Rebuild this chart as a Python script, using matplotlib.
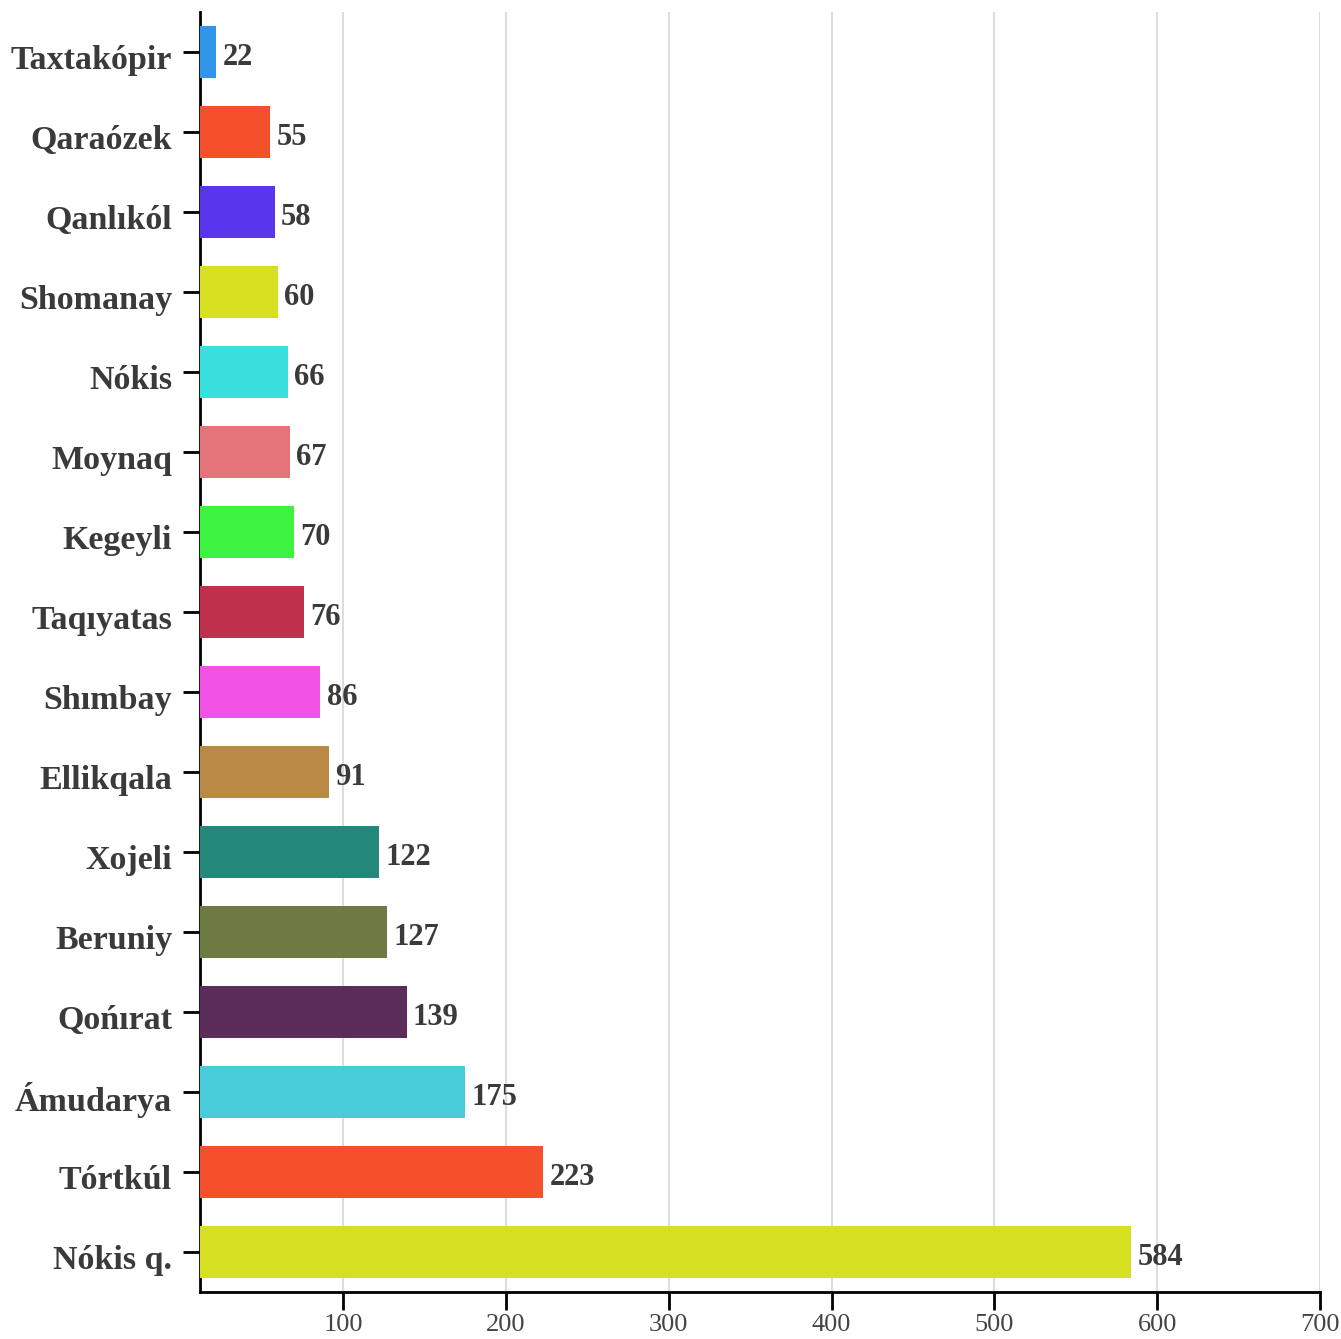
import matplotlib.pyplot as plt
from matplotlib.transforms import ScaledTranslation

districts = ['Taxtakópir', 'Qaraózek', 'Qanlıkól', 'Shomanay', 'Nókis', 'Moynaq',
             'Kegeyli', 'Taqıyatas', 'Shımbay', 'Ellikqala', 'Xojeli', 'Beruniy',
             'Qońırat', 'Ámudarya', 'Tórtkúl', 'Nókis q.']
counts = [22, 55, 58, 60, 66, 67, 70, 76, 86, 91, 122, 127, 139, 175, 223, 584]
colors = ['#3196EA', '#F5502C', '#5935EE', '#D8E021', '#39E0DE', '#E5737A',
          '#3EF240', '#BF304D', '#F252E6', '#B98945', '#23887A', '#6D7B42',
          '#5C2C5A', '#48CCDA', '#F5502C', '#D7DF22']
xticks = [100, 200, 300, 400, 500, 600, 700]

plt.rcParams['font.family'] = ['Liberation Serif', 'DejaVu Serif']

fig = plt.figure(figsize=(13.41, 13.39), dpi=100)
ax = fig.add_axes([200/1341, 47/1339, 1120/1341, 1280/1339])

pos = list(range(len(districts)))
ax.barh(pos, counts, height=0.64, color=colors, zorder=3)
for p, v in zip(pos, counts):
    ax.annotate(str(v), (v, p), xytext=(4.5, -4), textcoords='offset points',
                va='center', ha='left', fontsize=22, fontweight='bold', color='#3a3a3a')

ax.set_ylim(len(districts) - 0.5, -0.5)
ax.set_xlim(12, 700)
ax.set_yticks(pos)
ax.set_yticklabels(districts, fontsize=24.5, fontweight='bold', color='#3a3a3a')
ax.set_xticks(xticks)
ax.set_xticklabels([str(t) for t in xticks], fontsize=19, color='#444444')
ax.tick_params(axis='y', length=12, width=2, pad=8)
ax.tick_params(axis='x', length=13, width=2, pad=3)

# nudge the category labels down a little
shift = ScaledTranslation(0, -3.5/72, fig.dpi_scale_trans)
for lbl in ax.get_yticklabels():
    lbl.set_transform(lbl.get_transform() + shift)

ax.grid(axis='x', color='#dddddd', linewidth=1.5, zorder=0)
ax.set_axisbelow(True)
for s in ['top', 'right']:
    ax.spines[s].set_visible(False)
for s in ['left', 'bottom']:
    ax.spines[s].set_linewidth(2)

fig.savefig('out.png', dpi=100)
